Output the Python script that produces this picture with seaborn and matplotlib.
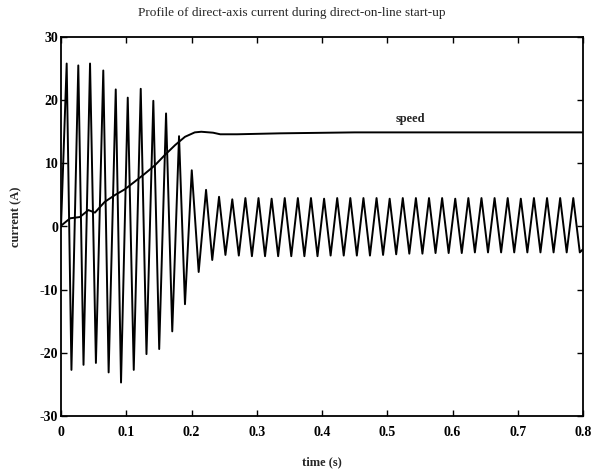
import matplotlib
matplotlib.use("Agg")
import matplotlib.pyplot as plt
import pandas as pd
import seaborn as sns

# Direct-axis current: start-up transient extrema (time in s, current in A)
transient_t = [0.0, 0.0087, 0.016, 0.0265, 0.0345, 0.0445, 0.0535, 0.0648, 0.073,
               0.0839, 0.092, 0.1023, 0.1115, 0.1222, 0.131, 0.1415, 0.1505, 0.161,
               0.1705, 0.1809, 0.19, 0.2004, 0.211, 0.2223, 0.2318, 0.2422, 0.252]
transient_a = [0.0, 25.8, -22.7, 25.5, -21.9, 25.8, -21.6, 24.7, -23.1,
               21.7, -24.7, 20.4, -22.7, 21.8, -20.2, 19.9, -19.4, 17.9,
               -16.6, 14.3, -12.3, 8.9, -7.2, 5.8, -5.3, 4.7, -4.5]

# Steady-state oscillation: positive peaks
peak_t = [0.2625, 0.2826, 0.3027, 0.3228, 0.3429, 0.3630, 0.3831, 0.4032, 0.4233,
          0.4434, 0.4635, 0.4836, 0.5037, 0.5238, 0.5439, 0.5640, 0.5841, 0.6042,
          0.6243, 0.6444, 0.6645, 0.6846, 0.7047, 0.7248, 0.7449, 0.7650, 0.7851]
peak_a = [4.3, 4.5, 4.5, 4.4, 4.5, 4.5, 4.5, 4.4, 4.5,
          4.5, 4.5, 4.5, 4.4, 4.5, 4.5, 4.5, 4.5, 4.4,
          4.5, 4.5, 4.5, 4.5, 4.4, 4.5, 4.5, 4.5, 4.5]

# Steady-state oscillation: negative peaks, plus the final sample at t = 0.8 s
trough_t = [0.2725, 0.2926, 0.3127, 0.3328, 0.3529, 0.3730, 0.3931, 0.4132, 0.4333,
            0.4534, 0.4735, 0.4936, 0.5137, 0.5338, 0.5539, 0.5740, 0.5941, 0.6142,
            0.6343, 0.6544, 0.6745, 0.6946, 0.7147, 0.7348, 0.7549, 0.7750, 0.7951,
            0.8000]
trough_a = [-4.6, -4.7, -4.7, -4.7, -4.7, -4.7, -4.7, -4.6, -4.6,
            -4.6, -4.6, -4.5, -4.4, -4.3, -4.3, -4.2, -4.2, -4.2,
            -4.1, -4.1, -4.1, -4.1, -4.1, -4.1, -4.1, -4.1, -4.1,
            -3.6]

# Rotor speed trace (same axis, arbitrary scale)
speed_t = [0.0, 0.001, 0.014, 0.029, 0.042, 0.052, 0.067, 0.083, 0.098, 0.113,
           0.129, 0.144, 0.159, 0.175, 0.190, 0.205, 0.215, 0.233, 0.244, 0.270,
           0.336, 0.45, 0.6, 0.8]
speed_v = [0.0, 0.2, 1.3, 1.5, 2.6, 2.2, 3.9, 5.0, 5.9, 7.1,
           8.4, 9.7, 11.3, 12.9, 14.2, 14.9, 15.0, 14.85, 14.6, 14.6,
           14.75, 14.9, 14.9, 14.9]

x_ticks = [0, 0.1, 0.2, 0.3, 0.4, 0.5, 0.6, 0.7, 0.8]
x_tick_labels = ["0", "0.1", "0.2", "0.3", "0.4", "0.5", "0.6", "0.7", "0.8"]
y_ticks = [-30, -20, -10, 0, 10, 20, 30]
y_tick_labels = ["-30", "-20", "-10", "0", "10", "20", "30"]

current = pd.concat([
    pd.DataFrame({"t": transient_t, "i": transient_a}),
    pd.DataFrame({"t": peak_t, "i": peak_a}),
    pd.DataFrame({"t": trough_t, "i": trough_a}),
]).sort_values("t").reset_index(drop=True)
speed = pd.DataFrame({"t": speed_t, "v": speed_v})

sns.set_style("ticks")
plt.rcParams["font.family"] = ["Liberation Serif", "DejaVu Serif"]

W, H = 591, 473
fig = plt.figure(figsize=(W / 100, H / 100), dpi=100)
ax = fig.add_axes([61 / W, 1 - 416 / H, 522 / W, 379 / H])

sns.lineplot(data=current, x="t", y="i", ax=ax, color="black", linewidth=1.4,
             estimator=None, sort=False)
sns.lineplot(data=speed, x="t", y="v", ax=ax, color="black", linewidth=1.4,
             estimator=None, sort=False)
for line in ax.get_lines():
    line.set_solid_joinstyle("round")

ax.set_xlim(0, 0.8)
ax.set_ylim(-30, 30)
ax.set_xticks(x_ticks)
ax.set_xticklabels(x_tick_labels)
ax.set_yticks(y_ticks)
ax.set_yticklabels(y_tick_labels)
ax.set_xlabel("")
ax.set_ylabel("")
for side in ["top", "right", "bottom", "left"]:
    ax.spines[side].set_visible(True)
    ax.spines[side].set_linewidth(1.3)
    ax.spines[side].set_color("black")
ax.tick_params(direction="in", top=True, right=True, length=4, width=1,
               labelsize=10, colors="black")
ax.tick_params(axis="x", pad=7)
ax.tick_params(axis="y", pad=2)
for lab in ax.get_xticklabels() + ax.get_yticklabels():
    lab.set_fontweight("bold")

ax.text(0.536, 17.0, "speed", ha="center", va="center", fontsize=9,
        fontweight="bold")

fig.text(292 / W, 1 - 13 / H, "Profile of direct-axis current during direct-on-line start-up",
         ha="center", va="center", fontsize=9.5)
fig.text(322 / W, 1 - 462 / H, "time (s)", ha="center", va="center",
         fontsize=9, fontweight="bold")
fig.text(16 / W, 1 - 217 / H, "current (A)", ha="center", va="center",
         rotation=90, fontsize=9, fontweight="bold")

fig.savefig("out.png", dpi=100, facecolor="white")
